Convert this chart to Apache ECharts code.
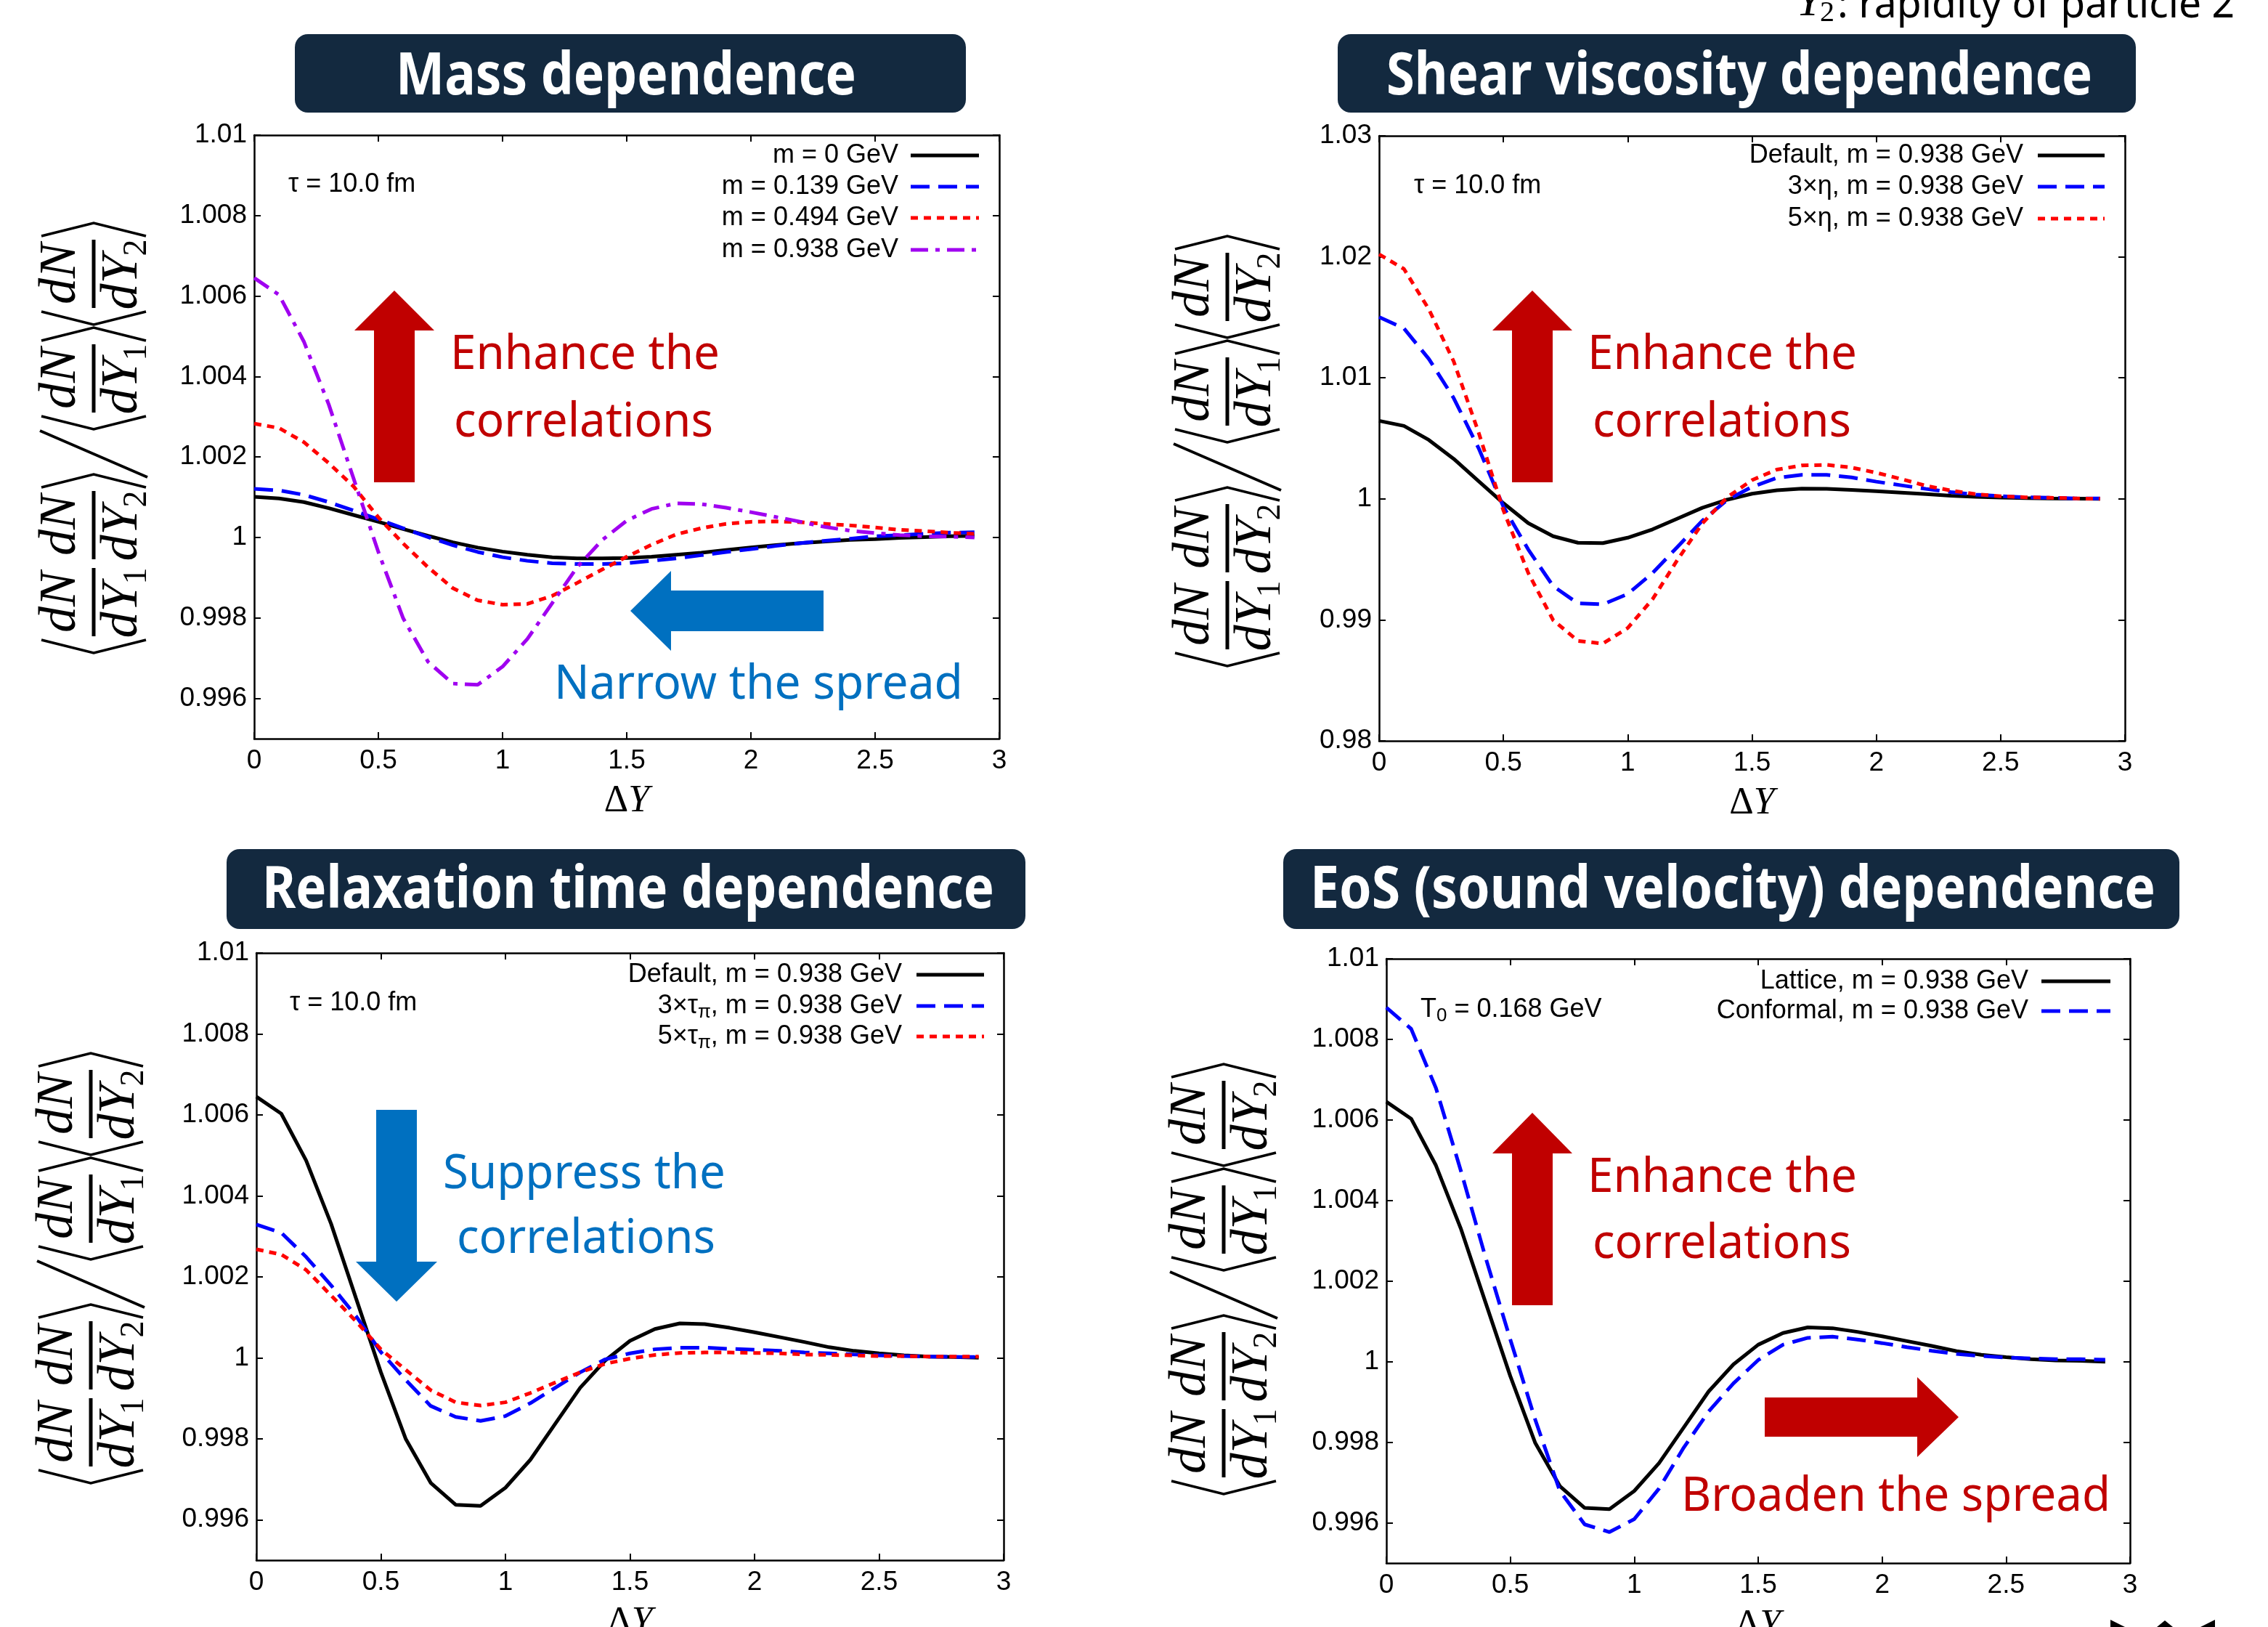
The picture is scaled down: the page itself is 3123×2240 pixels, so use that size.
<!DOCTYPE html>
<html lang="en">
<head>
<meta charset="utf-8">
<title>Two-particle rapidity correlations</title>
<script src="https://cdn.jsdelivr.net/npm/echarts@6.0.0/dist/echarts.min.js"></script>
<style>
  html, body { margin: 0; padding: 0; background: #ffffff; }
  #main { width: 3123px; height: 2240px; }
</style>
</head>
<body>
<div id="main"></div>
<script>
// ΔY sampling of every curve
var deltaY = [0, 0.1, 0.2, 0.3, 0.4, 0.5, 0.6, 0.7, 0.8, 0.9, 1.0, 1.1, 1.2, 1.3, 1.4,
              1.5, 1.6, 1.7, 1.8, 1.9, 2.0, 2.1, 2.2, 2.3, 2.4, 2.5, 2.6, 2.7, 2.8, 2.9];

// default run, m = 0.938 GeV (same curve shows up in all four panels)
var defaultM0938 = [1.00645, 1.00603, 1.00487, 1.00331, 1.00147, 0.99964, 0.99799, 0.99691, 0.99637, 0.99634,
                    0.99679, 0.99748, 0.99837, 0.99926, 0.99993, 1.00042, 1.00071, 1.00085, 1.00083, 1.00074,
                    1.00063, 1.00051, 1.00039, 1.00026, 1.00017, 1.00011, 1.00006, 1.00003, 1.00002, 1.00000];
// mass dependence
var massM0 = [1.00101, 1.00097, 1.00088, 1.00073, 1.00056, 1.00039, 1.00021, 1.00004, 0.99988, 0.99975,
              0.99965, 0.99957, 0.99951, 0.99948, 0.99948, 0.99949, 0.99952, 0.99957, 0.99962, 0.99969,
              0.99975, 0.99981, 0.99986, 0.99990, 0.99994, 0.99996, 0.99999, 1.00001, 1.00003, 1.00004];
var massM0139 = [1.00121, 1.00117, 1.00106, 1.00088, 1.00067, 1.00045, 1.00023, 1.00001, 0.99981, 0.99964,
                 0.99951, 0.99942, 0.99936, 0.99934, 0.99934, 0.99936, 0.99942, 0.99948, 0.99956, 0.99964,
                 0.99971, 0.99979, 0.99986, 0.99992, 0.99997, 1.00003, 1.00006, 1.00009, 1.00012, 1.00013];
var massM0494 = [1.00283, 1.00272, 1.00237, 1.00185, 1.00127, 1.00050, 0.99985, 0.99926, 0.99874, 0.99844,
                 0.99833, 0.99835, 0.99855, 0.99887, 0.99920, 0.99952, 0.99982, 1.00008, 1.00023, 1.00034,
                 1.00039, 1.00040, 1.00038, 1.00034, 1.00030, 1.00025, 1.00019, 1.00016, 1.00012, 1.00009];
// shear viscosity dependence
var shear3eta = [1.01503, 1.01408, 1.01157, 1.00833, 1.00420, 0.99935, 0.99581, 0.99279, 0.99136, 0.99128,
                 0.99214, 0.99387, 0.99603, 0.99819, 0.99991, 1.00099, 1.00173, 1.00199, 1.00199, 1.00177,
                 1.00142, 1.00112, 1.00082, 1.00056, 1.00035, 1.00022, 1.00013, 1.00009, 1.00004, 1.00004];
var shear5eta = [1.02021, 1.01900, 1.01567, 1.01136, 1.00550, 0.99905, 0.99387, 0.98998, 0.98826, 0.98804,
                 0.98933, 0.99171, 0.99495, 0.99797, 1.00013, 1.00155, 1.00242, 1.00276, 1.00281, 1.00259,
                 1.00216, 1.00164, 1.00108, 1.00069, 1.00039, 1.00022, 1.00013, 1.00009, 1.00004, 1.00000];
// relaxation time dependence
var relax3tau = [1.00329, 1.00309, 1.00249, 1.00179, 1.00103, 1.00014, 0.99945, 0.99881, 0.99854, 0.99844,
                 0.99856, 0.99888, 0.99926, 0.99964, 0.99996, 1.00011, 1.00021, 1.00025, 1.00025, 1.00022,
                 1.00020, 1.00017, 1.00013, 1.00011, 1.00008, 1.00006, 1.00004, 1.00003, 1.00002, 1.00002];
var relax5tau = [1.00268, 1.00255, 1.00217, 1.00154, 1.00090, 1.00021, 0.99970, 0.99920, 0.99890, 0.99882,
                 0.99890, 0.99913, 0.99939, 0.99964, 0.99985, 0.99998, 1.00007, 1.00012, 1.00013, 1.00013,
                 1.00012, 1.00011, 1.00008, 1.00007, 1.00006, 1.00004, 1.00004, 1.00003, 1.00003, 1.00003];
// EoS dependence
var eosConformal = [1.00879, 1.00826, 1.00679, 1.00475, 1.00259, 1.00055, 0.99857, 0.99679, 0.99596, 0.99577,
                    0.99609, 0.99685, 0.99787, 0.99876, 0.99946, 1.00004, 1.00042, 1.00059, 1.00062, 1.00055,
                    1.00046, 1.00036, 1.00027, 1.00019, 1.00014, 1.00010, 1.00008, 1.00006, 1.00006, 1.00005];

// tick labels
var xTicks = [0, 0.5, 1, 1.5, 2, 2.5, 3];
var yTicksFine = [0.996, 0.998, 1, 1.002, 1.004, 1.006, 1.008, 1.01];
var yTicksWide = [0.98, 0.99, 1, 1.01, 1.02, 1.03];

var SANS = '"Liberation Sans", Arial, sans-serif';
var BANNER = '"Noto Sans", "Open Sans", sans-serif';
var SERIF = '"Liberation Serif", "DejaVu Serif", serif';
var NAVY = '#13293f', DARKRED = '#c00000', BLUE = '#0070c0';

var lineKinds = {
  solid:   { color: '#000000', dash: 'solid' },
  dashed:  { color: '#0000ff', dash: [26, 12] },
  dotted:  { color: '#ff0000', dash: [10, 8] },
  dashDot: { color: '#a000f0', dash: [24, 10, 6, 10] }
};

var panels = [
  {
    grid: { left: 350, top: 186, width: 1026, height: 831 },
    yMin: 0.995, yMax: 1.01, yTicks: yTicksFine,
    curves: [
      { name: 'm = 0 GeV', data: massM0, kind: 'solid' },
      { name: 'm = 0.139 GeV', data: massM0139, kind: 'dashed' },
      { name: 'm = 0.494 GeV', data: massM0494, kind: 'dotted' },
      { name: 'm = 0.938 GeV', data: defaultM0938, kind: 'dashDot' }
    ],
    legend: { right: 1237, x1: 1254, x2: 1348, ys: [214, 257, 300, 344] },
    note: { text: 'τ = 10.0 fm', x: 397, y: 254 },
    yLabel: [129, 603]
  },
  {
    grid: { left: 1899, top: 187, width: 1027, height: 833 },
    yMin: 0.98, yMax: 1.03, yTicks: yTicksWide,
    curves: [
      { name: 'Default, m = 0.938 GeV', data: defaultM0938, kind: 'solid' },
      { name: '3×η, m = 0.938 GeV', data: shear3eta, kind: 'dashed' },
      { name: '5×η, m = 0.938 GeV', data: shear5eta, kind: 'dotted' }
    ],
    legend: { right: 2786, x1: 2806, x2: 2898, ys: [214, 257, 301] },
    note: { text: 'τ = 10.0 fm', x: 1947, y: 256 },
    yLabel: [1690, 621]
  },
  {
    grid: { left: 353, top: 1312, width: 1029, height: 836 },
    yMin: 0.995, yMax: 1.01, yTicks: yTicksFine,
    curves: [
      { name: 'Default, m = 0.938 GeV', data: defaultM0938, kind: 'solid' },
      { name: '3×τπ, m = 0.938 GeV', label: '3×τ{s|π}, m = 0.938 GeV', data: relax3tau, kind: 'dashed' },
      { name: '5×τπ, m = 0.938 GeV', label: '5×τ{s|π}, m = 0.938 GeV', data: relax5tau, kind: 'dotted' }
    ],
    legend: { right: 1242, x1: 1262, x2: 1355, ys: [1342, 1385, 1427] },
    note: { text: 'τ = 10.0 fm', x: 399, y: 1381 },
    yLabel: [125, 1746]
  },
  {
    grid: { left: 1909, top: 1320, width: 1024, height: 832 },
    yMin: 0.995, yMax: 1.01, yTicks: yTicksFine,
    curves: [
      { name: 'Lattice, m = 0.938 GeV', data: defaultM0938, kind: 'solid' },
      { name: 'Conformal, m = 0.938 GeV', data: eosConformal, kind: 'dashed' }
    ],
    legend: { right: 2793, x1: 2811, x2: 2906, ys: [1351, 1392] },
    note: { text: 'T{s|0} = 0.168 GeV', x: 1956, y: 1390 },
    yLabel: [1685, 1761]
  }
];

var measureCtx = document.createElement('canvas').getContext('2d');
function measure(str, style, weight, size, family) {
  measureCtx.font = style + ' ' + weight + ' ' + size + 'px ' + family;
  return measureCtx.measureText(str).width;
}

// banner-style text squeezed to the measured span, placed by its baseline
function fitText(str, left, right, baseline, size, color, weight) {
  weight = weight || 'normal';
  var w = measure(str, 'normal', weight, size, BANNER);
  return {
    type: 'text', x: left, y: baseline - 0.285 * size, scaleX: (right - left) / w, z: 20, silent: true,
    style: { text: str, fontSize: size, fontFamily: BANNER, fontWeight: weight, fill: color,
             align: 'left', verticalAlign: 'middle' }
  };
}

function arrow(tip, dir, len, headLen, headHalf, shaftHalf, color) {
  var ux = dir[0], uy = dir[1], px = -uy, py = ux;
  function at(a, b) { return [tip[0] - ux * a + px * b, tip[1] - uy * a + py * b]; }
  return {
    type: 'polygon', z: 20, silent: true,
    shape: { points: [at(0, 0), at(headLen, headHalf), at(headLen, shaftHalf), at(len, shaftHalf),
                      at(len, -shaftHalf), at(headLen, -shaftHalf), at(headLen, -headHalf)] },
    style: { fill: color }
  };
}

function mathText(str, x, y, size, style, align) {
  return { type: 'text', x: x, y: y,
    style: { text: str, fontSize: size, fontStyle: style, fontFamily: SERIF, fill: '#000',
             align: align, verticalAlign: 'middle' } };
}

// <dN/dY1 dN/dY2> / <dN/dY1><dN/dY2>, drawn unrotated then turned to read upwards
function ratioLabel(cx, cy) {
  var kids = [];
  var ink = { stroke: '#000', lineWidth: 3.5 };
  function open(x) { kids.push({ type: 'polyline', shape: { points: [[x + 18, -72], [x, 0], [x + 18, 72]] }, style: ink }); }
  function close(x) { kids.push({ type: 'polyline', shape: { points: [[x, -72], [x + 18, 0], [x, 72]] }, style: ink }); }
  function frac(x0, sub) {
    var w = 100, mid = x0 + w / 2;
    kids.push({ type: 'line', shape: { x1: x0 + 3, y1: 0, x2: x0 + w - 3, y2: 0 }, style: { stroke: '#000', lineWidth: 5 } });
    kids.push(mathText('dN', mid, -45, 72, 'italic', 'center'));
    var dw = measure('dY', 'italic', 'normal', 72, SERIF);
    var sw = measure(sub, 'normal', 'normal', 46, SERIF);
    var left = mid - (dw + sw) / 2;
    kids.push(mathText('dY', left, 40, 72, 'italic', 'left'));
    kids.push(mathText(sub, left + dw - 2, 60, 46, 'normal', 'left'));
  }
  open(-296); frac(-276, '1'); frac(-170, '2'); close(-68);
  kids.push({ type: 'line', shape: { x1: -54, y1: 74, x2: 10, y2: -74 }, style: { stroke: '#000', lineWidth: 4 } });
  open(12); frac(32, '1'); close(134);
  open(156); frac(176, '2'); close(278);
  return { type: 'group', x: cx, y: cy, rotation: Math.PI / 2, silent: true, children: kids };
}

function fmt(v) { return String(+v.toFixed(4)); }

var grids = [], xAxes = [], yAxes = [], series = [], graphics = [];
panels.forEach(function (p, i) {
  grids.push(Object.assign({ containLabel: false, outerBoundsMode: 'none' }, p.grid));
  var axisLine = { show: true, onZero: false, lineStyle: { color: '#000', width: 2.5 } };
  var tickStyle = { show: true, inside: true, length: 9, lineStyle: { color: '#000', width: 2 } };
  var labelStyle = { fontSize: 37, fontFamily: SANS, color: '#000', formatter: fmt };
  xAxes.push({
    type: 'value', gridIndex: i, position: 'bottom', min: 0, max: 3,
    axisLine: axisLine, splitLine: { show: false },
    axisTick: Object.assign({ customValues: xTicks }, tickStyle),
    axisLabel: Object.assign({ customValues: xTicks, margin: 12 }, labelStyle),
    name: '{d|Δ}{y|Y}', nameLocation: 'middle', nameGap: 60, nameMoveOverlap: false,
    nameTextStyle: { rich: {
      d: { fontSize: 52, fontFamily: SERIF, color: '#000' },
      y: { fontSize: 52, fontFamily: SERIF, fontStyle: 'italic', color: '#000' }
    } }
  });
  xAxes.push({
    type: 'value', gridIndex: i, position: 'top', min: 0, max: 3,
    axisLine: axisLine, splitLine: { show: false },
    axisTick: Object.assign({ customValues: xTicks }, tickStyle),
    axisLabel: { show: false }
  });
  yAxes.push({
    type: 'value', gridIndex: i, position: 'left', min: p.yMin, max: p.yMax,
    axisLine: axisLine, splitLine: { show: false },
    axisTick: Object.assign({ customValues: p.yTicks }, tickStyle),
    axisLabel: Object.assign({ customValues: p.yTicks, margin: 10 }, labelStyle)
  });
  yAxes.push({
    type: 'value', gridIndex: i, position: 'right', min: p.yMin, max: p.yMax,
    axisLine: axisLine, splitLine: { show: false },
    axisTick: Object.assign({ customValues: p.yTicks }, tickStyle),
    axisLabel: { show: false }
  });

  p.curves.forEach(function (c, k) {
    var kind = lineKinds[c.kind];
    series.push({
      type: 'line', name: c.name, xAxisIndex: 2 * i, yAxisIndex: 2 * i,
      data: deltaY.map(function (x, j) { return [x, c.data[j]]; }),
      symbol: 'none', silent: true, z: 3 + k,
      lineStyle: { color: kind.color, width: 5, type: kind.dash },
      itemStyle: { color: kind.color }
    });
    var ly = p.legend.ys[k];
    graphics.push({
      type: 'text', x: p.legend.right, y: ly, z: 20, silent: true,
      style: { text: c.label || c.name, fontSize: 36, fontFamily: SANS, fill: '#000', lineHeight: 44,
               align: 'right', verticalAlign: 'middle',
               rich: { s: { fontSize: 26, fontFamily: SANS, lineHeight: 26, verticalAlign: 'bottom' } } }
    });
    graphics.push({
      type: 'line', z: 20, silent: true,
      shape: { x1: p.legend.x1, y1: ly, x2: p.legend.x2, y2: ly },
      style: { stroke: kind.color, lineWidth: 5, lineDash: kind.dash === 'solid' ? null : kind.dash }
    });
  });

  graphics.push({
    type: 'text', x: p.note.x, y: p.note.y, z: 20, silent: true,
    style: { text: p.note.text, fontSize: 36, fontFamily: SANS, fill: '#000', lineHeight: 44,
             align: 'left', verticalAlign: 'middle',
             rich: { s: { fontSize: 26, fontFamily: SANS, lineHeight: 26, verticalAlign: 'bottom' } } }
  });
  graphics.push(ratioLabel(p.yLabel[0], p.yLabel[1]));
});

// title banners
[
  { text: 'Mass dependence', box: [406, 47, 924, 108], span: [545, 1179], base: 130 },
  { text: 'Shear viscosity dependence', box: [1842, 47, 1099, 108], span: [1909, 2881], base: 130 },
  { text: 'Relaxation time dependence', box: [312, 1169, 1100, 110], span: [361, 1369], base: 1250 },
  { text: 'EoS (sound velocity) dependence', box: [1767, 1169, 1234, 110], span: [1804, 2968], base: 1250 }
].forEach(function (t) {
  graphics.push({ type: 'rect', z: 15, silent: true,
    shape: { x: t.box[0], y: t.box[1], width: t.box[2], height: t.box[3], r: 18 },
    style: { fill: NAVY } });
  graphics.push(fitText(t.text, t.span[0], t.span[1], t.base, 80, '#ffffff', 'bold'));
});

// effect arrows and captions
graphics.push(arrow([543, 400], [0, -1], 264, 55, 55, 28, DARKRED));
graphics.push(fitText('Enhance the', 620, 991, 508, 66, DARKRED));
graphics.push(fitText('correlations', 625, 982, 601, 66, DARKRED));
graphics.push(arrow([868, 841], [-1, 0], 266, 56, 55, 28, BLUE));
graphics.push(fitText('Narrow the spread', 763, 1326, 962, 66, BLUE));

graphics.push(arrow([2110, 400], [0, -1], 264, 55, 55, 28, DARKRED));
graphics.push(fitText('Enhance the', 2186, 2557, 508, 66, DARKRED));
graphics.push(fitText('correlations', 2193, 2549, 601, 66, DARKRED));

graphics.push(arrow([546, 1792], [0, 1], 264, 55, 56, 28, BLUE));
graphics.push(fitText('Suppress the', 610, 999, 1636, 66, BLUE));
graphics.push(fitText('correlations', 629, 985, 1725, 66, BLUE));

graphics.push(arrow([2110, 1532], [0, -1], 265, 56, 55, 28, DARKRED));
graphics.push(fitText('Enhance the', 2186, 2557, 1641, 66, DARKRED));
graphics.push(fitText('correlations', 2193, 2549, 1732, 66, DARKRED));
graphics.push(arrow([2697, 1951], [1, 0], 267, 57, 55, 27, DARKRED));
graphics.push(fitText('Broaden the spread', 2315, 2906, 2080, 66, DARKRED));

// cropped caption at the top right
graphics.push({ type: 'text', x: 2473, y: 24 - 0.305 * 64, z: 20, silent: true,
  style: { text: 'Y', fontSize: 64, fontStyle: 'italic', fontFamily: SERIF, fill: '#000', align: 'left', verticalAlign: 'middle' } });
graphics.push({ type: 'text', x: 2506, y: 31 - 0.305 * 40, z: 20, silent: true,
  style: { text: '2', fontSize: 40, fontFamily: SERIF, fill: '#000', align: 'left', verticalAlign: 'middle' } });
graphics.push(fitText(': rapidity of particle 2', 2530, 3077, 24, 56, '#000'));

// cropped marks at the bottom right
[[[2906, 2230], [2926, 2240], [2906, 2240]],
 [[2970, 2240], [2981, 2231], [2992, 2240]],
 [[3050, 2230], [3030, 2240], [3050, 2240]]].forEach(function (pts) {
  graphics.push({ type: 'polygon', z: 20, silent: true, shape: { points: pts }, style: { fill: '#000' } });
});

var chart = echarts.init(document.getElementById('main'));
chart.setOption({
  backgroundColor: '#ffffff',
  animation: false,
  grid: grids,
  xAxis: xAxes,
  yAxis: yAxes,
  series: series,
  graphic: { elements: graphics }
});
</script>
</body>
</html>
